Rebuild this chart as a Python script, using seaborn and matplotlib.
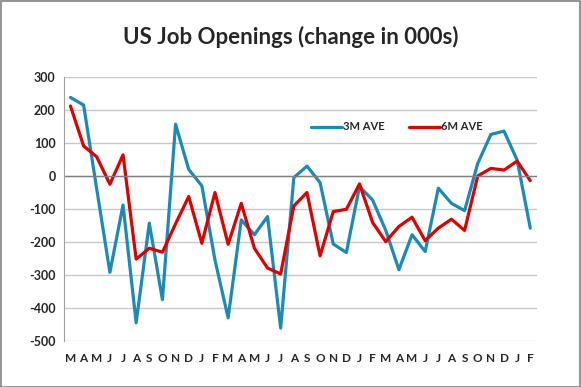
import numpy as np
import pandas as pd
import matplotlib
matplotlib.use('Agg')
import matplotlib.pyplot as plt
import seaborn as sns

# months (Mar .. Feb, three years)
months = ['M', 'A', 'M', 'J', 'J', 'A', 'S', 'O', 'N', 'D', 'J', 'F'] * 3

# 3 month average change in job openings (000s)
ave_3m = [238, 215, -40, -292, -88, -445, -143, -375, 157, 20,
          -30, -255, -430, -133, -178, -123, -461, -5, 30, -20,
          -206, -232, -32, -73, -165, -284, -178, -229, -37, -83,
          -105, 38, 126, 136, 48, -158]

# 6 month average
ave_6m = [212, 91, 58, -25, 64, -252, -219, -231, -145, -62,
          -204, -50, -207, -83, -219, -279, -297, -91, -50, -242,
          -108, -101, -24, -141, -199, -153, -125, -196, -158, -131,
          -165, 0, 23, 18, 45, -14]

series = ['3M AVE', '6M AVE']
colors = ['#1A8BB9', '#E00000']

idx = np.arange(len(months))
df = pd.DataFrame({'idx': np.concatenate([idx, idx]),
                   'val': ave_3m + ave_6m,
                   'series': [series[0]] * len(idx) + [series[1]] * len(idx)})

sns.set_style('white')
plt.rcParams['font.family'] = ['Lato', 'DejaVu Sans']

fig = plt.figure(figsize=(5.81, 3.87), dpi=100)
ax = fig.add_axes([0.110, 0.119, 0.814, 0.682])

sns.lineplot(data=df, x='idx', y='val', hue='series', palette=colors,
             linewidth=2.3, ax=ax, legend=True)

ax.set_xlim(-0.5, len(months) - 0.5)
ax.set_ylim(-500, 300)
ax.set_yticks(range(-500, 301, 100))
ax.set_yticklabels([str(v) for v in range(-500, 301, 100)], fontsize=9, fontweight='bold')
ax.set_xticks(idx)
ax.set_xticklabels(months, fontsize=8.5, fontweight='bold')
ax.tick_params(axis='both', length=0, pad=6)
ax.tick_params(axis='x', pad=9)
ax.set_xlabel('')
ax.set_ylabel('')

ax.grid(axis='y', color='#C8C8C8', linewidth=1)
ax.axhline(0, color='#808080', linewidth=1)
ax.set_axisbelow(True)
for s in ['top', 'right', 'bottom']:
    ax.spines[s].set_visible(False)
ax.spines['left'].set_color('#A0A0A0')

leg = ax.legend(loc='center', bbox_to_anchor=(0.683, 0.672), bbox_transform=fig.transFigure,
                ncol=2, frameon=False, handlelength=2.8, columnspacing=2.2, handletextpad=0.1,
                prop={'size': 8, 'weight': 'bold'})

fig.text(0.5, 0.905, 'US Job Openings (change in 000s)', ha='center', va='center',
         fontsize=16, fontweight='bold')

fig.patches.append(plt.Rectangle((0.001, 0.001), 0.997, 0.997, transform=fig.transFigure,
                                 fill=False, edgecolor='#808080', linewidth=1.2))

fig.savefig('out.png', dpi=100)
